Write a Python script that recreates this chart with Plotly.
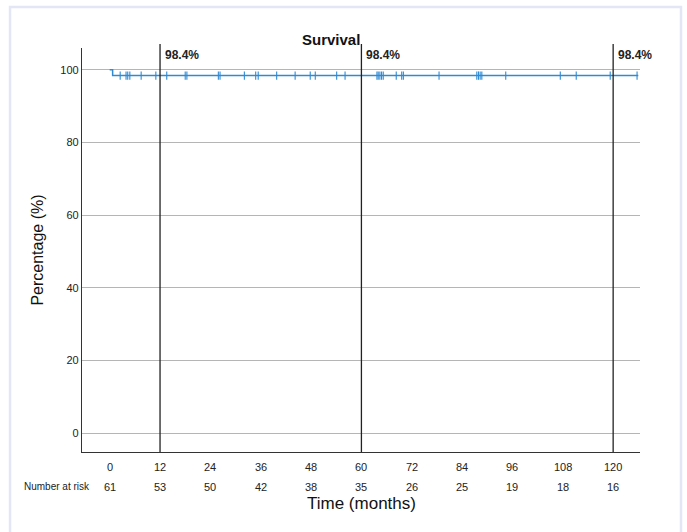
import plotly.graph_objects as go

# ---- data ----
curve_time = [0, 0.7, 0.7, 126]
curve_surv = [100, 100, 98.4, 98.4]
censor_times = [2.5, 3.9, 4.3, 4.8, 7.5, 11.0, 13.6, 18.0, 18.4, 25.9, 26.3,
                32.1, 34.8, 35.4, 39.8, 44.2, 47.8, 49.0, 54.1, 56.1, 63.7,
                64.0, 64.4, 64.8, 65.2, 68.3, 69.6, 70.0, 78.5, 87.5, 87.9,
                88.3, 88.7, 94.4, 107.4, 111.2, 119.3, 125.7]
censor_surv = [98.4] * len(censor_times)
x_ticks = [0, 12, 24, 36, 48, 60, 72, 84, 96, 108, 120]
at_risk = [61, 53, 50, 42, 38, 35, 26, 25, 19, 18, 16]
y_ticks = [0, 20, 40, 60, 80, 100]
mark_times = [12, 60, 120]
mark_labels = ["98.4%", "98.4%", "98.4%"]

FONT = "Liberation Sans Narrow, Arial Narrow, Liberation Sans, Arial, sans-serif"
BLUE = "#2f8ad4"

fig = go.Figure()
fig.add_trace(go.Scatter(x=curve_time, y=curve_surv, mode="lines",
                         line=dict(color=BLUE, width=1.5), hoverinfo="skip",
                         showlegend=False))
fig.add_trace(go.Scatter(x=censor_times, y=censor_surv, mode="markers",
                         marker=dict(symbol="line-ns", size=6,
                                     line=dict(color=BLUE, width=1.1)),
                         showlegend=False))

for t in mark_times:
    fig.add_shape(type="line", x0=t, x1=t, xref="x", y0=0, y1=1.01, yref="paper",
                  line=dict(color="#222222", width=1.3), layer="above")
for t, lab in zip(mark_times, mark_labels):
    fig.add_annotation(x=t, y=101.5, xref="x", yref="y", text="<b>%s</b>" % lab,
                       showarrow=False, xanchor="left", yanchor="bottom", xshift=3,
                       font=dict(family=FONT, size=12, color="#222222"))

# x tick labels and number at risk row
for t, n in zip(x_ticks, at_risk):
    fig.add_annotation(x=t, y=-0.018, xref="x", yref="paper", text=str(t),
                       showarrow=False, yanchor="top",
                       font=dict(family=FONT, size=11, color="#222222"))
    fig.add_annotation(x=t, y=-0.066, xref="x", yref="paper", text=str(n),
                       showarrow=False, yanchor="top",
                       font=dict(family=FONT, size=11, color="#222222"))
fig.add_annotation(x=-0.107, y=-0.066, xref="paper", yref="paper",
                   text="Number at risk", showarrow=False, xanchor="left",
                   yanchor="top", font=dict(family=FONT, size=10, color="#222222"))

fig.add_annotation(x=0.5, y=-0.098, xref="paper", yref="paper",
                   text="Time (months)", showarrow=False, yanchor="top",
                   font=dict(family=FONT, size=17, color="#111111"))
fig.add_annotation(x=0.446, y=1.02, xref="paper", yref="paper",
                   text="<b>Survival</b>", showarrow=False, yanchor="middle",
                   font=dict(family=FONT, size=15, color="#111111"))

# outer frame
fig.add_shape(type="rect", xref="paper", yref="paper",
              x0=-0.129, x1=1.0735, y0=-0.25, y1=1.1015,
              line=dict(color="#e3e7f5", width=2.5), fillcolor="rgba(0,0,0,0)")

fig.update_layout(
    width=687, height=532,
    margin=dict(l=82, r=47, t=48, b=80, autoexpand=False),
    paper_bgcolor="white", plot_bgcolor="white",
    font=dict(family=FONT, size=11, color="#222222"),
    xaxis=dict(range=[-6.6, 126.4], showticklabels=False, showgrid=False,
               zeroline=False, showline=True, linecolor="#333333", linewidth=1.3,
               ticks="", automargin=False),
    yaxis=dict(range=[-5.2, 106], tickvals=y_ticks, showgrid=True,
               gridcolor="#b5b5b5", gridwidth=1, zeroline=False, showline=True,
               linecolor="#333333", linewidth=1.3, ticks="", automargin=False,
               tickfont=dict(family=FONT, size=11, color="#222222"),
               title=dict(text="Percentage (%)", standoff=12,
                          font=dict(family=FONT, size=16, color="#111111"))),
)

fig.write_html("out.html", config={"displayModeBar": False},
               post_script="document.body.style.margin='0';document.body.style.overflow='hidden';")
